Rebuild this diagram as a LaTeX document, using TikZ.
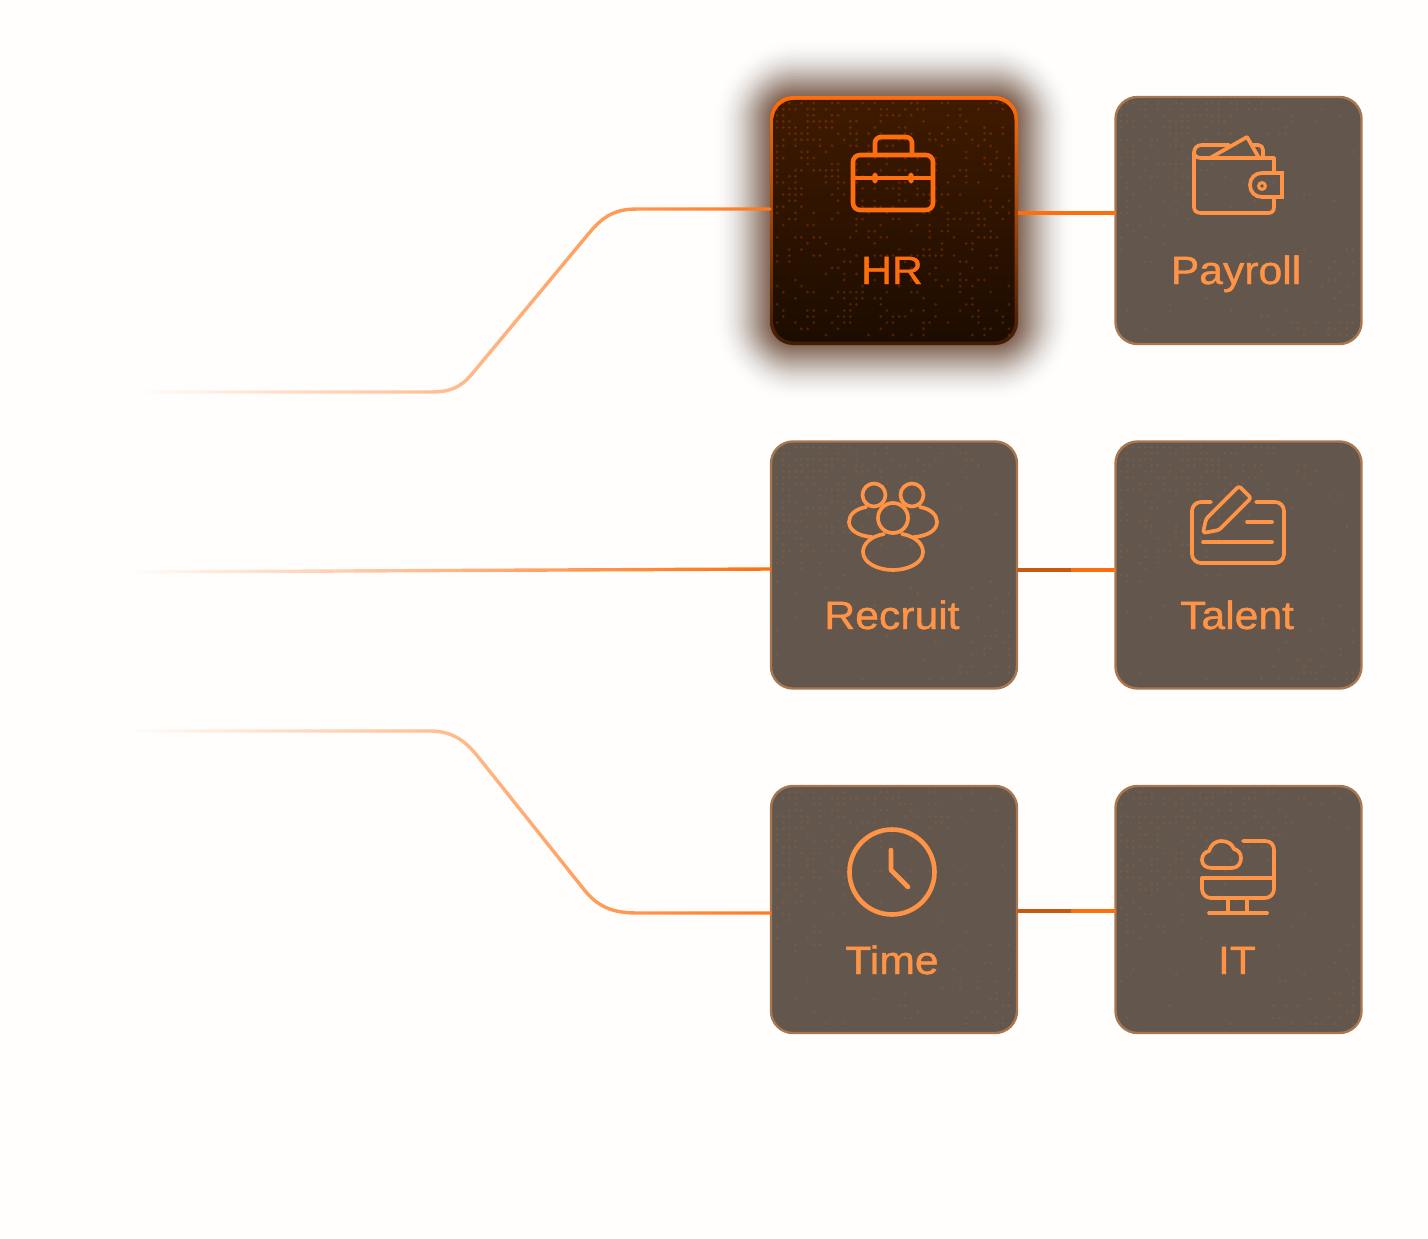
\documentclass[tikz,border=0pt]{standalone}
\usepackage{fontspec}
\setmainfont{Noto Sans}
\newfontfamily\labelfont{Liberation Sans}[FakeStretch=1.08,FakeBold=1.0]
\usetikzlibrary{calc,fadings}
\definecolor{bgc}{HTML}{FFFEFD}
\definecolor{boxfill}{HTML}{63564C}
\definecolor{boxedge}{HTML}{A87750}
\definecolor{hot}{HTML}{FF6E0C}
\definecolor{soft}{HTML}{FF9447}
\definecolor{glowc}{HTML}{4A2208}
\definecolor{dimline}{HTML}{C85A10}
\definecolor{HRtop}{HTML}{3F1A00}
\definecolor{HRbot}{HTML}{1C0C00}
\tikzfading[name=linefade,left color=transparent!100,middle color=transparent!42,right color=transparent!0]
\tikzset{
  card/.style={draw=boxedge,fill=boxfill,line width=2.4pt,rounded corners=22pt,minimum width=246pt,minimum height=247pt,inner sep=0pt,outer sep=0pt},
  hotcard/.style={rounded corners=23pt,top color=hot,bottom color=hot!25!black,minimum width=248pt,minimum height=249pt,inner sep=0pt,outer sep=0pt},
  cardtext/.style={anchor=base,text=soft,inner sep=0pt,font=\labelfont\fontsize{39.5}{40}\selectfont},
  icon/.style={draw=soft,line width=3.7pt,line cap=round,line join=round},
  hoticon/.style={draw=hot,line width=4.6pt,line cap=round,line join=round},
  tail/.style={draw=#1,line width=3.4pt,line cap=round,path fading=linefade,fit fading=true},
  link/.style={draw=#1,line width=3.6pt}
}
\newcommand{\dotfield}[5]{%
  % x, y of top-left corner, colour, constant density, opacity
  \begin{scope}[fill=#3,fill opacity=#5]
  \foreach \ii in {1,...,39}{\foreach \jj in {1,...,39}{%
    \pgfmathsetmacro\pp{max(#4,max(.75*(1-(\ii+1.3*\jj)/45),.45*((\ii+\jj)-58)/20))}%
    \pgfmathsetmacro\rr{rnd}%
    \ifdim\rr pt<\pp pt\relax
      \fill ({#1+\ii*6.1},{#2+\jj*6.1}) circle (1.6pt);
    \fi
  }}
  \end{scope}}
\begin{document}
\begin{tikzpicture}[x=1pt,y=-1pt]
\pgfmathsetseed{4242}
\useasboundingbox (0,0) rectangle (1428,1239);
\fill[bgc] (0,0) rectangle (1428,1239);

% glow round the HR card
\foreach \g in {56,54,...,0}{
  \pgfmathsetmacro\ga{.004+.085*(1-\g/56)*sqrt(1-\g/56)}
  \fill[glowc,opacity=\ga,rounded corners={22pt+\g*1.1pt}] ({771-\g},{97-\g}) rectangle ({1017+\g},{344+\g});
}

% cards
\node[hotcard] (hr) at (894,220.5) {};
\path[rounded corners=20pt,top color=HRtop,bottom color=HRbot] ([xshift=3.5pt,yshift=-4pt]hr.north west) rectangle ([xshift=-3.5pt,yshift=3.5pt]hr.south east);
\node[card] (payroll) at (1238.5,220.5) {};
\node[card] (recruit) at (894,565) {};
\node[card] (talent) at (1238.5,565) {};
\node[card] (time) at (894,909.5) {};
\node[card] (it) at (1238.5,909.5) {};

% dot texture
\dotfield{771}{97}{hot}{.25}{.2}
\dotfield{1115}{97}{boxedge}{.02}{.2}
\dotfield{771}{441}{boxedge}{.02}{.2}
\dotfield{1115}{441}{boxedge}{.02}{.2}
\dotfield{771}{786}{boxedge}{.02}{.2}
\dotfield{1115}{786}{boxedge}{.02}{.2}

% free ends of the incoming lines
\coordinate (s1) at (140,392);
\coordinate (s2) at (130,572);
\coordinate (s3) at (130,731);

% incoming lines
\path[tail=hot!92!white] (s1) -- (430,392) .. controls (450,392) and (460,388) .. (472,374) -- (590,232) .. controls (605,214) and (618,209) .. (637,209) -- ([yshift=11.5pt]hr.west);
\path[tail=hot] (s2) -- ([yshift=-4pt]recruit.west);
\path[tail=hot!92!white] (s3) -- (430,731) .. controls (452,731) and (465,740) .. (478,756) -- (585,890) .. controls (598,906) and (612,913) .. (637,913) -- ([yshift=-3.5pt]time.west);

% connectors between cards
\draw[link=hot] ([yshift=7.5pt]hr.east) -- ([yshift=7.5pt]payroll.west);
\draw[link=hot] ([yshift=-5pt]recruit.east) -- ([yshift=-5pt]talent.west);
\draw[link=dimline] ([yshift=-5pt]recruit.east) -- ($([yshift=-5pt]recruit.east)!.55!([yshift=-5pt]talent.west)$);
\draw[link=hot] ([yshift=-1.5pt]time.east) -- ([yshift=-1.5pt]it.west);
\draw[link=dimline] ([yshift=-1.5pt]time.east) -- ($([yshift=-1.5pt]time.east)!.55!([yshift=-1.5pt]it.west)$);

% labels
\node[cardtext,text=hot] (lhr) at (892,284) {HR};
\node[cardtext] (lpayroll) at (1236,284) {Payroll};
\node[cardtext] (lrecruit) at (892,629) {Recruit};
\node[cardtext] (ltalent) at (1237,629) {Talent};
\node[cardtext] (ltime) at (892,974) {Time};
\node[cardtext] (lit) at (1237,974) {IT};

% briefcase
\draw[hoticon,rounded corners=7pt] (853,155) rectangle (933,210);
\draw[hoticon,rounded corners=6pt] (875,155) -- (875,137) -- (912,137) -- (912,155);
\draw[hoticon] (853,178) -- (933,178);
\fill[hot] (875,178) ellipse (3.2pt and 5.5pt) (911,178) ellipse (3.2pt and 5.5pt);

% wallet
\draw[icon,rounded corners=5pt] (1210,158) -- (1269,158) .. controls (1272,158) and (1274,160) .. (1274,163) -- (1274,173);
\draw[icon] (1274,197) -- (1274,207) .. controls (1274,211) and (1272,213) .. (1268,213) -- (1201,213) .. controls (1197,213) and (1194,211) .. (1194,207) -- (1194,153) .. controls (1194,148) and (1197,145) .. (1202,145) -- (1229,145);
\draw[icon] (1194,152) .. controls (1194,156) and (1197,158) .. (1201,158) -- (1210,158);
\draw[icon] (1210,158) -- (1247,137) -- (1259,158);
\draw[icon] (1253,145) -- (1258,145) .. controls (1261,145) and (1263,147) .. (1263,150) -- (1263,158);
\draw[icon,line join=miter] (1282,173) -- (1262,173) .. controls (1255,173) and (1250,178) .. (1250,185) .. controls (1250,192) and (1255,197) .. (1262,197) -- (1282,197) -- cycle;
\draw[icon,line width=3pt] (1262,186) circle (3.4pt);

% people
\draw[icon] (874,495) circle (11.5pt);
\draw[icon] (912,495) circle (11.5pt);
\draw[icon] (893,518) circle (15pt);
\draw[icon] (866,507) .. controls (855,509) and (849,515) .. (849,522) .. controls (849,530) and (858,536) .. (872,537);
\draw[icon] (920,507) .. controls (931,509) and (937,515) .. (937,522) .. controls (937,530) and (928,536) .. (914,537);
\draw[icon] (884,534) .. controls (872,536) and (863,543) .. (863,552) .. controls (863,563) and (878,570) .. (893,570) .. controls (908,570) and (923,563) .. (923,552) .. controls (923,543) and (914,536) .. (902,534);

% talent
\draw[icon,rounded corners=9pt] (1211,502) -- (1192,502) -- (1192,563) -- (1284,563) -- (1284,502) -- (1256,502);
\draw[icon] (1247,522) -- (1272,522);
\draw[icon] (1203,542) -- (1272,542);
\draw[icon,rounded corners=2.5pt] (1203,533) -- (1206,519) -- (1239,486) -- (1251,498) -- (1219,530) -- cycle;

% clock
\draw[hoticon,draw=soft] (892,872) circle (42.5pt);
\draw[hoticon,draw=soft] (891,850) -- (891,870) -- (908,887);

% computer and cloud
\draw[icon] (1243,841) -- (1265,841) .. controls (1271,841) and (1274,845) .. (1274,850) -- (1274,878);
\draw[icon,rounded corners=9pt] (1202,878) -- (1202,898) -- (1274,898) -- (1274,878);
\draw[icon] (1202,878) -- (1274,878);
\draw[icon] (1228,898) -- (1228,913);
\draw[icon] (1247,898) -- (1247,913);
\draw[icon] (1209,913) -- (1267,913);
\draw[icon] (1212,868) -- (1232,868) .. controls (1238,868) and (1241,863) .. (1241,858) .. controls (1241,853) and (1238,850) .. (1234,849) .. controls (1232,844) and (1228,841) .. (1221,841) .. controls (1215,841) and (1211,845) .. (1209,851) .. controls (1205,852) and (1202,855) .. (1202,860) .. controls (1202,865) and (1206,868) .. (1212,868) -- cycle;
\end{tikzpicture}
\end{document}
